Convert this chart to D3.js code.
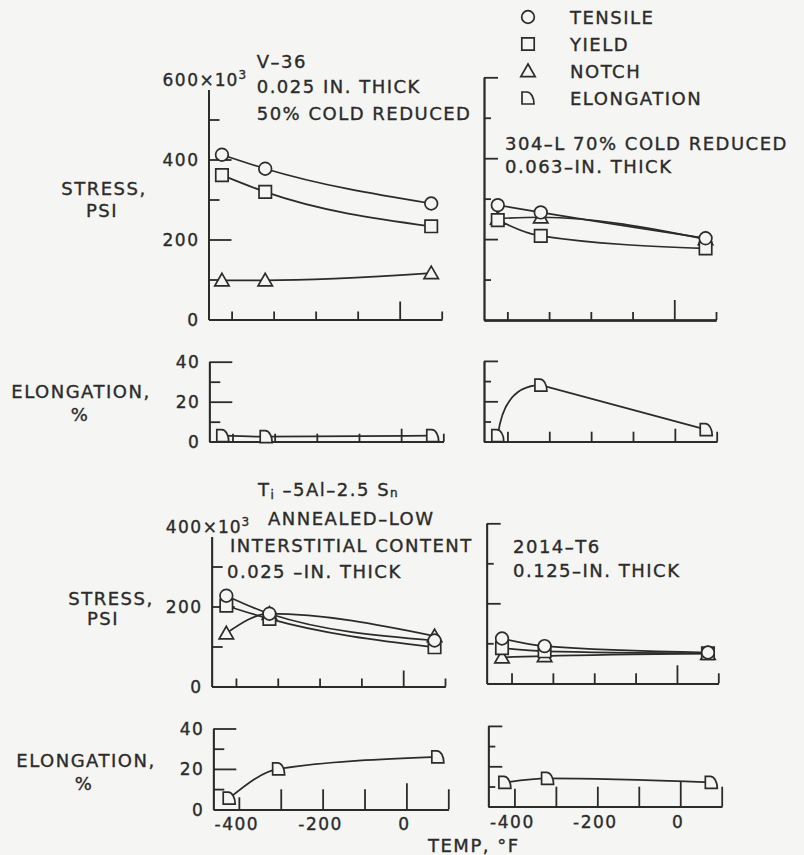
<!DOCTYPE html>
<html>
<head>
<meta charset="utf-8">
<script src="https://cdn.jsdelivr.net/npm/d3@7"></script>
<style>
  html, body { margin: 0; padding: 0; background: #f5f5f3; }
  svg text { font-family: "DejaVu Sans", sans-serif; fill: #2b2b2b; stroke: #2b2b2b; stroke-width: 0.35px; }
</style>
</head>
<body>
<div id="chart"></div>
<script>
// test temperatures, deg F (LH2, LN2, room)
var temps = [-423, -320, 75]
var tempsTiElong = [-423, -305, 75]
var xTickValues = [-400, -300, -200, -100, 0, 100]
var xTickLabels = ['-400', '-200', '0']

// V-36, 0.025 in., 50% cold reduced  (ksi)
var v36Tensile = [412, 377, 290]
var v36Yield = [361, 319, 233]
var v36Notch = [98, 98, 116]
var v36Elong = [3, 2.5, 3]

// 304-L 70% cold reduced, 0.063 in.
var l304Tensile = [284, 266, 202]
var l304Yield = [247, 208, 177]
var l304Notch = [251, 254, 200]
var l304Elong = [3, 28, 6]

// Ti-5Al-2.5Sn annealed
var tiTensile = [227, 182, 115]
var tiYield = [202, 169, 98]
var tiNotch = [133, 182, 126]
var tiElong = [5.5, 20, 26]

// 2014-T6, 0.125 in.
var alTensile = [112, 93, 77]
var alYield = [88, 80, 75]
var alNotch = [65, 68, 74]
var alElong = [12, 14, 12]

var legendNames = ['TENSILE', 'YIELD', 'NOTCH', 'ELONGATION']

/**
 * 常量 / 画布
 */
var width = 804
var height = 855
var ink = '#2b2b2b'
var bg = '#f5f5f3'

var svg = d3.select('#chart')
  .append('svg')
  .attr('width', width)
  .attr('height', height)

svg.append('rect').attr('width', width).attr('height', height).attr('fill', bg)

/**
 * 标记形状
 */
var markerPath = {
  circle: d3.symbol().type(d3.symbolCircle).size(Math.PI * 40)(),
  square: 'M-6.2,-6.2H6.2V6.2H-6.2Z',
  triangle: 'M0,-7L7.2,5.6H-7.2Z',
  elong: 'M-6,6V-6H-1A7,12 0 0 1 6,6Z'
}

function drawMarker(g, kind, x, y) {
  g.append('path')
    .attr('d', markerPath[kind])
    .attr('transform', `translate(${x},${y})`)
    .attr('fill', bg)
    .attr('stroke', ink)
    .attr('stroke-width', 1.7)
}

// rises to a peak then runs straight down (304-L elongation)
function peakPath(pts) {
  var p = d3.path()
  p.moveTo(pts[0][0], pts[0][1])
  p.quadraticCurveTo(pts[0][0] + (pts[1][0] - pts[0][0]) * 0.15, pts[1][1], pts[1][0], pts[1][1])
  for (var i = 2; i < pts.length; i++) p.lineTo(pts[i][0], pts[i][1])
  return p.toString()
}

/**
 * 单个面板
 */
function drawPanel(p) {
  var g = svg.append('g')
  var x = d3.scaleLinear().domain([p.xMin, 100]).range([p.x0, p.x100])
  var y = d3.scaleLinear().domain([0, p.axisTop]).range([p.y0, p.y0 - p.axisTop * p.pxPerUnit])

  // y axis: long / short ticks drawn inward
  var yAxisG = g.append('g').attr('transform', `translate(${p.x0},0)`)
  yAxisG.append('g').call(d3.axisRight(y).tickValues(p.yMajor).tickSize(p.yLong).tickSizeOuter(0).tickFormat(''))
  yAxisG.append('g').call(d3.axisRight(y).tickValues(p.yMinor).tickSize(p.yShort).tickSizeOuter(0).tickFormat(''))

  // x axis: ticks point up
  var xAxisG = g.append('g').attr('transform', `translate(0,${p.y0})`)
  xAxisG.append('g').call(d3.axisTop(x).tickValues(xTickValues.filter(v => v !== 0 && v !== -400)).tickSize(p.xShort).tickSizeOuter(0).tickFormat(''))
  xAxisG.append('g').call(d3.axisTop(x).tickValues([-400]).tickSize(p.xFirst || p.xShort).tickSizeOuter(0).tickFormat(''))
  xAxisG.append('g').call(d3.axisTop(x).tickValues([0]).tickSize(p.xZero).tickSizeOuter(0).tickFormat(''))

  g.selectAll('.domain, .tick line')
    .attr('stroke', ink)
    .attr('stroke-width', 1.8)

  // y labels
  if (p.yLabels) {
    p.yLabels.forEach(function (lab) {
      g.append('text')
        .attr('x', p.x0 - 9)
        .attr('y', y(lab.v) + 6.5)
        .attr('text-anchor', 'end')
        .attr('font-size', 17)
        .attr('letter-spacing', 1.5)
        .text(lab.text)
    })
  }
  if (p.unitLabel) {
    var u = g.append('text')
      .attr('x', p.x0 - 9)
      .attr('y', y(p.unitLabel.v) + 6.5)
      .attr('font-size', 17)
      .attr('letter-spacing', 1)
    u.append('tspan').text('×10')
    u.append('tspan').attr('dy', -7).attr('font-size', 12).text('3')
  }

  // x labels
  if (p.xLabels) {
    g.selectAll('.xlab')
      .data([-400, -200, 0])
      .enter()
      .append('text')
      .attr('x', d => x(d) - 2)
      .attr('y', p.y0 + 21)
      .attr('text-anchor', 'middle')
      .attr('font-size', 17)
      .attr('letter-spacing', 1.5)
      .text((d, i) => xTickLabels[i])
  }

  var line = d3.line()
    .x(d => x(d.t))
    .y(d => y(d.v))
    .curve(d3.curveMonotoneX)

  var series = p.series.map(s => ({
    kind: s.kind,
    peak: s.peak,
    pts: s.values.map((v, i) => ({ t: (s.temps || temps)[i], v: v }))
  }))

  series.forEach(function (s) {
    g.append('path')
      .attr('d', s.peak ? peakPath(s.pts.map(d => [x(d.t), y(d.v)])) : line(s.pts))
      .attr('fill', 'none')
      .attr('stroke', ink)
      .attr('stroke-width', 1.7)
  })
  series.forEach(function (s) {
    s.pts.forEach(d => drawMarker(g, s.kind, x(d.t), y(d.v)))
  })
  return g
}

function stressSeries(ten, yld, nch) {
  return [
    { kind: 'triangle', values: nch },
    { kind: 'square', values: yld },
    { kind: 'circle', values: ten }
  ]
}

var leftStyle = { yLong: 23, yShort: 11 }
var rightStyle = { yLong: 14, yShort: 7 }

// V-36 stress
drawPanel(Object.assign({
  x0: 208.5, x100: 441.7, xMin: -455, y0: 319.5, pxPerUnit: 0.4, axisTop: 575,
  yMajor: [200, 400], yMinor: [100, 300, 500],
  xShort: 8, xZero: 18,
  yLabels: [{ v: 0, text: '0' }, { v: 200, text: '200' }, { v: 400, text: '400' }, { v: 600, text: '600' }],
  unitLabel: { v: 600 },
  series: stressSeries(v36Tensile, v36Yield, v36Notch)
}, leftStyle))

// 304-L stress
drawPanel(Object.assign({
  x0: 484, x100: 716, xMin: -456, y0: 320, pxPerUnit: 0.4045, axisTop: 600,
  yMajor: [200, 400, 600], yMinor: [100, 300, 500],
  xShort: 8, xZero: 20,
  series: stressSeries(l304Tensile, l304Yield, l304Notch)
}, rightStyle))

// V-36 elongation
drawPanel(Object.assign({
  x0: 209.3, x100: 443.3, xMin: -455, y0: 441.7, pxPerUnit: 2, axisTop: 40,
  yMajor: [20, 40], yMinor: [10, 30],
  xShort: 8, xZero: 13,
  yLabels: [{ v: 0, text: '0' }, { v: 20, text: '20' }, { v: 40, text: '40' }],
  series: [{ kind: 'elong', values: v36Elong }]
}, leftStyle))

// 304-L elongation
drawPanel(Object.assign({
  x0: 484, x100: 716.7, xMin: -456, y0: 441.7, pxPerUnit: 2.02, axisTop: 40,
  yMajor: [20, 40], yMinor: [10, 30],
  xShort: 10, xZero: 13,
  series: [{ kind: 'elong', values: l304Elong, peak: true }]
}, rightStyle))

// Ti stress
drawPanel(Object.assign({
  x0: 211.7, x100: 445, xMin: -458, y0: 686.5, pxPerUnit: 0.4, axisTop: 375,
  yMajor: [200], yMinor: [100, 300],
  xShort: 8, xZero: 16,
  yLabels: [{ v: 0, text: '0' }, { v: 200, text: '200' }, { v: 400, text: '400' }],
  unitLabel: { v: 400 },
  series: stressSeries(tiTensile, tiYield, tiNotch)
}, leftStyle))

// 2014-T6 stress
drawPanel(Object.assign({
  x0: 486.7, x100: 718.3, xMin: -460, y0: 683.3, pxPerUnit: 0.4, axisTop: 400,
  yMajor: [200, 400], yMinor: [100, 300],
  xShort: 10, xZero: 18,
  series: stressSeries(alTensile, alYield, alNotch)
}, rightStyle))

// Ti elongation
drawPanel(Object.assign({
  x0: 213.3, x100: 448.3, xMin: -461, y0: 809.3, pxPerUnit: 2.02, axisTop: 40,
  yMajor: [20, 40], yMinor: [10, 30],
  xShort: 20, xFirst: 12, xZero: 26, xLabels: true,
  yLabels: [{ v: 0, text: '0' }, { v: 20, text: '20' }, { v: 40, text: '40' }],
  series: [{ kind: 'elong', values: tiElong, temps: tempsTiElong }]
}, leftStyle))

// 2014-T6 elongation
drawPanel(Object.assign({
  x0: 488.3, x100: 721.7, xMin: -463, y0: 806.7, pxPerUnit: 2.02, axisTop: 40,
  yMajor: [20, 40], yMinor: [10, 30],
  xShort: 20, xFirst: 18, xZero: 25, xLabels: true,
  series: [{ kind: 'elong', values: alElong }]
}, rightStyle))

/**
 * 文字
 */
function label(x, y, str, anchor) {
  return svg.append('text')
    .attr('x', x)
    .attr('y', y)
    .attr('text-anchor', anchor || 'start')
    .attr('font-size', 18)
    .attr('letter-spacing', 1.5)
    .text(str)
}

label(104, 195, 'STRESS,', 'middle')
label(102, 217, 'PSI', 'middle')
label(81, 398, 'ELONGATION,', 'middle')
label(80, 421, '%', 'middle')
label(111, 605, 'STRESS,', 'middle')
label(103, 625, 'PSI', 'middle')
label(86, 767, 'ELONGATION,', 'middle')
label(84, 790, '%', 'middle')

label(256.7, 68, 'V–36')
label(256.7, 93, '0.025 IN. THICK')
label(256.7, 120, '50% COLD REDUCED')

label(505, 150, '304–L 70% COLD REDUCED')
label(505, 173, '0.063–IN. THICK')

var ti = svg.append('text')
  .attr('x', 258)
  .attr('y', 496)
  .attr('font-size', 18)
  .attr('letter-spacing', 1.5)
ti.append('tspan').text('T')
ti.append('tspan').attr('font-size', 12).attr('dy', 3).text('i')
ti.append('tspan').attr('dy', -3).text(' –5Al–2.5 S')
ti.append('tspan').attr('font-size', 12).attr('dy', 1).text('n')

label(268, 525, 'ANNEALED–LOW')
label(230, 552, 'INTERSTITIAL CONTENT')
label(227, 578, '0.025 –IN. THICK')

label(513, 553, '2014–T6')
label(513, 577, '0.125–IN. THICK')

label(428, 852, 'TEMP, °F')

/**
 * 图例
 */
var legendKinds = ['circle', 'square', 'triangle', 'elong']
var legendY = d3.scalePoint().domain(legendNames).range([17, 98])
var legend = svg.append('g')
legendNames.forEach(function (name, i) {
  drawMarker(legend, legendKinds[i], 528, legendY(name))
  legend.append('text')
    .attr('x', 570)
    .attr('y', legendY(name) + 7)
    .attr('font-size', 18)
    .attr('letter-spacing', 1.5)
    .text(name)
})
</script>
</body>
</html>
